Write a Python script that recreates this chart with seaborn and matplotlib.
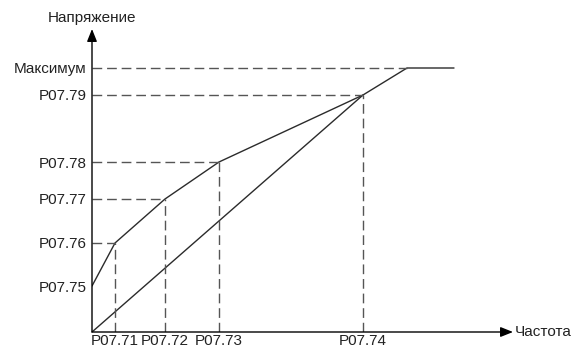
import numpy as np
import pandas as pd
import matplotlib
matplotlib.use("Agg")
import matplotlib.pyplot as plt
import seaborn as sns

# frequency break points (x) and voltage levels (y)
x_labels = ['P07.71', 'P07.72', 'P07.73', 'P07.74']
x_points = [23, 73, 127, 271]
y_labels = ['P07.75', 'P07.76', 'P07.77', 'P07.78', 'P07.79', 'Максимум']
y_points = [46, 89, 133, 170, 237, 264]

# multi-point V/F curve
curve_x = [0, 23, 73, 127, 271, 315, 362]
curve_y = [46, 89, 133, 170, 237, 264, 264]
# straight V/F line
line_x = [0, 271]
line_y = [0, 237]
# dashed guides: corner points of the curve
guide_x = [23, 73, 127, 271, 315]
guide_y = [89, 133, 170, 237, 264]

sns.set_style("white")
plt.rcParams['font.family'] = ['Liberation Sans', 'DejaVu Sans']

fig = plt.figure(figsize=(5.77, 3.51), dpi=100)
ax = fig.add_axes([92 / 577, 19 / 351, 421 / 577, 303 / 351])
ax.set_xlim(0, 421)
ax.set_ylim(0, 303)

line_col = '#2b2b2b'
dash_col = '#555555'

curve = pd.DataFrame({'x': curve_x, 'y': curve_y})
sns.lineplot(data=curve, x='x', y='y', ax=ax, color=line_col, lw=1.0, sort=False)
sns.lineplot(x=line_x, y=line_y, ax=ax, color=line_col, lw=1.0, sort=False)

ax.hlines(guide_y, 0, guide_x, colors=dash_col, lw=1.0, linestyles=(0, (7, 3.5)))
ax.vlines(guide_x[:-1], 0, guide_y[:-1], colors=dash_col, lw=1.0, linestyles=(0, (7, 3.5)))

for side in ax.spines:
    ax.spines[side].set_visible(False)

# axes drawn as arrows
arrow = dict(arrowstyle='-|>,head_length=0.75,head_width=0.3', color='black', lw=1.0,
             shrinkA=0, shrinkB=0)
ax.annotate('', xy=(1, 0), xytext=(0, 0), xycoords='axes fraction', arrowprops=arrow)
ax.annotate('', xy=(0, 1), xytext=(0, 0), xycoords='axes fraction', arrowprops=arrow)

ax.set_xticks(x_points)
ax.set_xticklabels(x_labels)
ax.set_yticks(y_points)
ax.set_yticklabels(y_labels)
ax.tick_params(axis='both', length=0, labelsize=11, colors='#222222')
ax.tick_params(axis='x', pad=1.5)
ax.tick_params(axis='y', pad=4)
ax.set_xlabel('')
ax.set_ylabel('')

ax.annotate('Напряжение', xy=(0, 1), xycoords='axes fraction', xytext=(0, 8),
            textcoords='offset points', ha='center', va='center', fontsize=11, color='#222222')
ax.annotate('Частота', xy=(1, 0), xycoords='axes fraction', xytext=(1.5, 0),
            textcoords='offset points', ha='left', va='center', fontsize=11, color='#222222')

fig.savefig('out.png', dpi=100)
